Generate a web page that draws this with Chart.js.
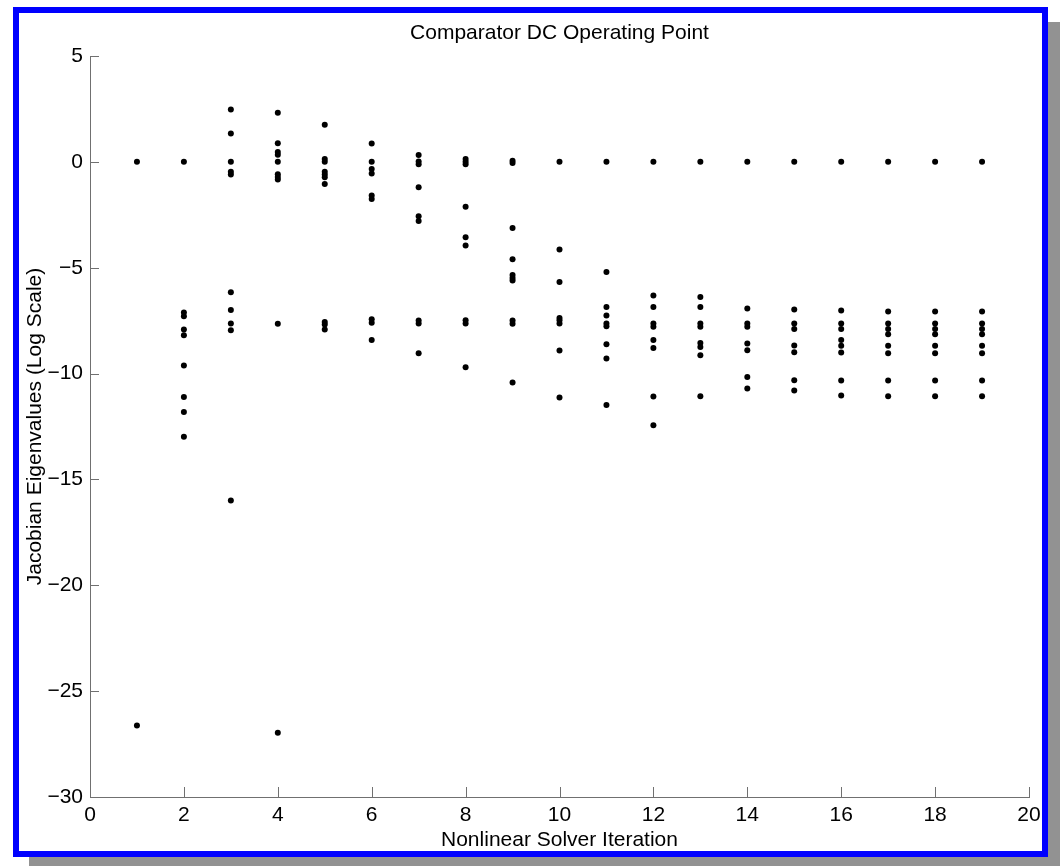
<!DOCTYPE html>
<html>
<head>
<meta charset="utf-8">
<title>Comparator DC Operating Point</title>
<script src="https://cdn.jsdelivr.net/npm/chart.js@4/dist/chart.umd.min.js"></script>
<style>
  html, body { margin: 0; padding: 0; background: #fff; }
  #page { position: relative; width: 1060px; height: 866px; overflow: hidden; }
  #shadow { position: absolute; left: 29px; top: 22px; width: 1035px; height: 850px; background: #929292; }
  #frame { position: absolute; left: 13px; top: 7px; width: 1035px; height: 850px; box-sizing: border-box;
           border: 6px solid #0000ff; background: #fff; }
  #plot { position: absolute; left: 0; top: 0; }
</style>
</head>
<body>
<div id="page">
  <div id="shadow"></div>
  <div id="frame"></div>
  <canvas id="plot" width="1060" height="866"></canvas>
</div>
<script>
const iterations = [1, 2, 3, 4, 5, 6, 7, 8, 9, 10, 11, 12, 13, 14, 15, 16, 17, 18, 19];
const eigenvalues = [
    [0, -26.62],
    [0, -7.12, -7.29, -7.92, -8.19, -9.62, -11.11, -11.82, -12.99],
    [2.47, 1.34, 0, -0.47, -0.6, -6.16, -7.0, -7.63, -7.95, -15.99],
    [2.32, 0.88, 0.46, 0.33, 0, -0.58, -0.71, -0.83, -7.65, -26.97],
    [1.75, 0.13, 0, -0.47, -0.6, -0.73, -1.04, -7.56, -7.68, -7.92],
    [0.87, 0, -0.34, -0.55, -1.59, -1.75, -7.43, -7.6, -8.42],
    [0.32, 0.02, -0.11, -1.2, -2.57, -2.79, -7.49, -7.63, -9.04],
    [0.13, 0, -0.11, -2.12, -3.56, -3.95, -7.48, -7.63, -9.7],
    [0.05, -0.05, -3.12, -4.6, -5.35, -5.48, -5.6, -7.49, -7.65, -10.42],
    [0, -4.14, -5.67, -7.37, -7.48, -7.63, -8.91, -11.13],
    [0, -5.2, -6.86, -7.26, -7.63, -7.76, -8.61, -9.29, -11.49],
    [0, -6.31, -6.85, -7.63, -7.79, -8.42, -8.79, -11.08, -12.44],
    [0, -6.38, -6.85, -7.63, -7.79, -8.56, -8.74, -9.13, -11.07],
    [0, -6.93, -7.63, -7.79, -8.58, -8.9, -10.16, -10.7],
    [0, -6.97, -7.63, -7.89, -8.67, -8.99, -10.31, -10.8],
    [0, -7.02, -7.63, -7.9, -8.42, -8.69, -9.0, -10.33, -11.03],
    [0, -7.07, -7.63, -7.89, -8.14, -8.69, -9.04, -10.33, -11.07],
    [0, -7.07, -7.63, -7.89, -8.14, -8.69, -9.04, -10.33, -11.07],
    [0, -7.07, -7.63, -7.89, -8.14, -8.69, -9.04, -10.33, -11.07],
];
const xTicks = [0, 2, 4, 6, 8, 10, 12, 14, 16, 18, 20];
const yTicks = [-30, -25, -20, -15, -10, -5, 0, 5];
const chartTitle = 'Comparator DC Operating Point';

const points = [];
iterations.forEach((it, i) => {
    eigenvalues[i].forEach(v => points.push({ x: it, y: v }));
});

const axisColor = '#707070';

// MATLAB style ticks that point into the plot, plus a title centred on the axes
const matlabAxes = {
    id: 'matlabAxes',
    afterDraw(chart) {
        const { ctx, chartArea, scales } = chart;
        ctx.save();
        ctx.strokeStyle = axisColor;
        ctx.lineWidth = 1;
        ctx.beginPath();
        xTicks.forEach(v => {
            const px = Math.round(scales.x.getPixelForValue(v)) + 0.5;
            ctx.moveTo(px, chartArea.bottom);
            ctx.lineTo(px, chartArea.bottom - 10);
        });
        yTicks.forEach(v => {
            const py = Math.round(scales.y.getPixelForValue(v)) + 0.5;
            ctx.moveTo(chartArea.left, py);
            ctx.lineTo(chartArea.left + 9, py);
        });
        ctx.stroke();

        ctx.fillStyle = '#000';
        ctx.font = '21px "Liberation Sans", Arial, Helvetica, sans-serif';
        ctx.textAlign = 'center';
        ctx.textBaseline = 'middle';
        ctx.fillText(chartTitle, (chartArea.left + chartArea.right) / 2, chartArea.top - 23);
        ctx.restore();
    }
};

Chart.defaults.font.family = '"Liberation Sans", Arial, Helvetica, sans-serif';
Chart.defaults.font.size = 21;
Chart.defaults.color = '#000';

const minus = v => (v < 0 ? '\u2212' + Math.abs(v) : String(v));

new Chart(document.getElementById('plot'), {
    type: 'scatter',
    data: {
        datasets: [{
            data: points,
            backgroundColor: '#000',
            borderWidth: 0,
            pointRadius: 3,
            pointHoverRadius: 3,
        }]
    },
    options: {
        responsive: false,
        animation: false,
        devicePixelRatio: 1,
        layout: { padding: { left: 0, right: 31, top: 56, bottom: 0 } },
        plugins: {
            legend: { display: false },
            tooltip: { enabled: false },
            title: { display: false },
        },
        scales: {
            x: {
                type: 'linear',
                min: 0, max: 20,
                afterFit: s => { s.height = 69; },
                afterBuildTicks: s => { s.ticks = xTicks.map(v => ({ value: v })); },
                ticks: { padding: 6, autoSkip: false, maxRotation: 0 },
                grid: { display: false, drawTicks: false },
                border: { display: true, color: axisColor, width: 1 },
                title: { display: true, text: 'Nonlinear Solver Iteration', padding: { top: 0, bottom: 13 } },
            },
            y: {
                type: 'linear',
                min: -30, max: 5,
                afterFit: s => { s.width = 90; },
                afterBuildTicks: s => { s.ticks = yTicks.map(v => ({ value: v })); },
                ticks: { padding: 7, autoSkip: false, callback: minus },
                grid: { display: false, drawTicks: false },
                border: { display: true, color: axisColor, width: 1 },
                title: { display: true, text: 'Jacobian Eigenvalues (Log Scale)', padding: { top: 23, bottom: 0 } },
            },
        },
    },
    plugins: [matlabAxes],
});
</script>
</body>
</html>
